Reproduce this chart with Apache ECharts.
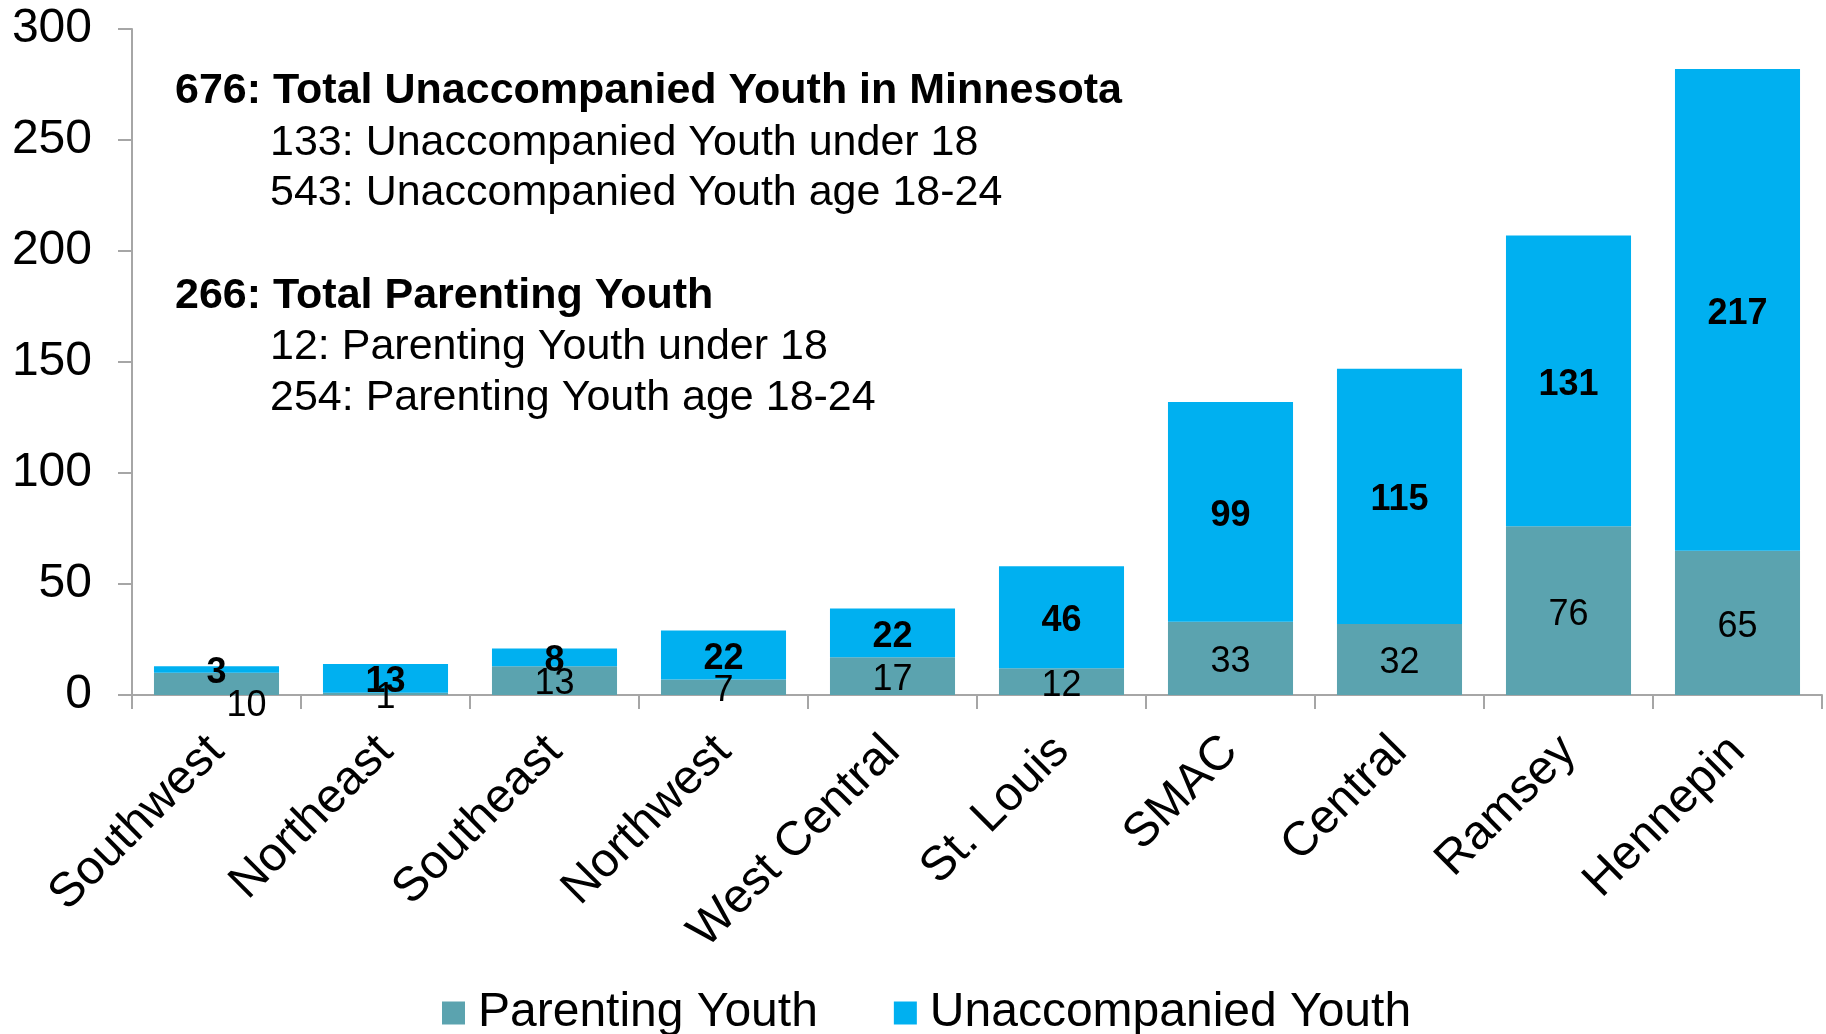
<!DOCTYPE html>
<html>
<head>
<meta charset="utf-8">
<script src="https://cdn.jsdelivr.net/npm/echarts@6/dist/echarts.min.js"></script>
<style>
html,body{margin:0;padding:0;background:#fff;}
#chart{width:1826px;height:1034px;}
</style>
</head>
<body>
<div id="chart"></div>
<script>
const categories = ["Southwest","Northeast","Southeast","Northwest","West Central","St. Louis","SMAC","Central","Ramsey","Hennepin"];
const parentingYouth = [10,1,13,7,17,12,33,32,76,65];
const unaccompaniedYouth = [3,13,8,22,22,46,99,115,131,217];
const yTicks = [0,50,100,150,200,250,300];
const seriesNames = ["Parenting Youth","Unaccompanied Youth"];
const noteLines = [
  {text:"676: Total Unaccompanied Youth in Minnesota", bold:true},
  {text:"133: Unaccompanied Youth under 18", bold:false},
  {text:"543: Unaccompanied Youth age 18-24", bold:false},
  {text:"266: Total Parenting Youth", bold:true},
  {text:"12: Parenting Youth under 18", bold:false},
  {text:"254: Parenting Youth age 18-24", bold:false}
];

const FONT = "'Liberation Sans', Arial, sans-serif";
const chart = echarts.init(document.getElementById('chart'), null, {renderer:'canvas'});

const noteX = [175, 270, 270, 175, 270, 270];
const noteY = [95, 147, 197, 300, 351, 402];

const parentingData = parentingYouth.map((v,i)=> i===0 ? {value:v, label:{offset:[30,22]}} : v);

const option = {
  backgroundColor:'#ffffff',
  animation:false,
  textStyle:{fontFamily:FONT},
  grid:{left:132, right:4, top:29, bottom:339, containLabel:false},
  legend:{
    data:seriesNames,
    left:437, top:984,
    icon:'rect', itemWidth:23, itemHeight:23, itemGap:76,
    textStyle:{fontSize:48, color:'#000', fontFamily:FONT, padding:[0,0,0,8]},
    selectedMode:false
  },
  xAxis:{
    type:'category',
    data:categories,
    axisLine:{lineStyle:{color:'#A6A6A6', width:2}},
    axisTick:{show:true, alignWithLabel:false, length:14, lineStyle:{color:'#A6A6A6', width:2}},
    axisLabel:{rotate:45, fontSize:48, color:'#000', fontFamily:FONT, margin:49, interval:0}
  },
  yAxis:{
    type:'value', min:yTicks[0], max:yTicks[yTicks.length-1], interval:50,
    splitLine:{show:false},
    axisLine:{show:true, lineStyle:{color:'#A6A6A6', width:2}},
    axisTick:{show:true, length:14, lineStyle:{color:'#A6A6A6', width:2}},
    axisLabel:{fontSize:48, color:'#000', fontFamily:FONT, margin:40}
  },
  series:[
    {
      name:seriesNames[0], type:'bar', stack:'total', barCategoryGap:'26%',
      data:parentingData,
      itemStyle:{color:'#5BA3AF'},
      label:{show:true, position:'inside', offset:[0,4], fontSize:36, color:'#000', fontFamily:FONT}
    },
    {
      name:seriesNames[1], type:'bar', stack:'total', barCategoryGap:'26%',
      data:unaccompaniedYouth,
      itemStyle:{color:'#00B0F0'},
      label:{show:true, position:'inside', offset:[0,4], fontSize:36, fontWeight:'bold', color:'#000', fontFamily:FONT}
    }
  ],
  graphic: noteLines.map((l,i)=>({
    type:'text', left:noteX[i], top:noteY[i]-25,
    style:{text:l.text, font:(l.bold?'bold ':'')+'43px '+FONT, fill:'#000'}
  }))
};
chart.setOption(option);
</script>
</body>
</html>
